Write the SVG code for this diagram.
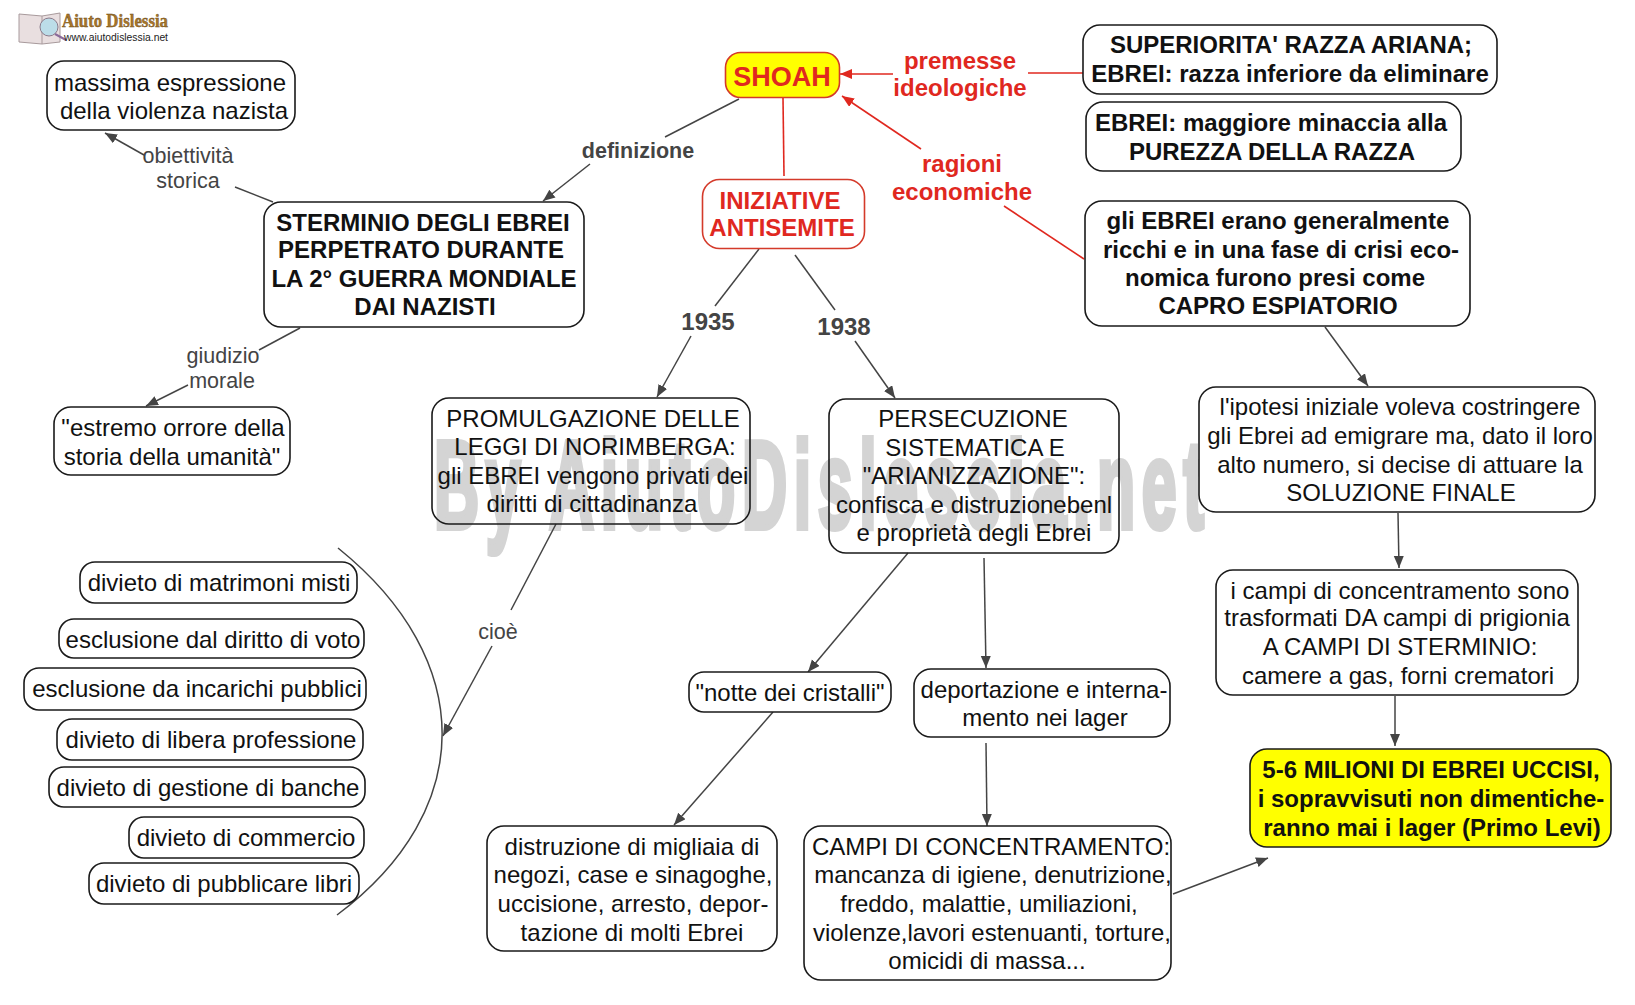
<svg xmlns="http://www.w3.org/2000/svg" width="1635" height="1005" viewBox="0 0 1635 1005">
<style>
text{font-family:"Liberation Sans",Arial,sans-serif;text-anchor:middle}
.b{fill:#fff;stroke:#1a1a1a;stroke-width:1.6}
.t{fill:none;stroke:#1a1a1a;stroke-width:1.6}
.n{font-size:24px;fill:#111}
.bd{font-size:24px;font-weight:bold;fill:#111}
.r{font-size:24px;font-weight:bold;fill:#e0281f}
.l{font-size:21.5px;fill:#444}
.lb{font-size:21.5px;font-weight:bold;fill:#444}
.y{font-size:24px;font-weight:bold;fill:#444}
.c{fill:none;stroke:#444;stroke-width:1.5}
.cr{fill:none;stroke:#e0281f;stroke-width:1.6}
.a{marker-end:url(#ma)}
.ar{marker-end:url(#mr)}
</style>
<defs>
<marker id="ma" markerUnits="userSpaceOnUse" markerWidth="14" markerHeight="12" refX="12" refY="5" orient="auto"><path d="M0 0L12 5L0 10z" fill="#444"/></marker>
<marker id="mr" markerUnits="userSpaceOnUse" markerWidth="14" markerHeight="12" refX="12" refY="5" orient="auto"><path d="M0 0L12 5L0 10z" fill="#e0281f"/></marker>
</defs>
<rect width="1635" height="1005" fill="#fff"/>
<text id="watermark" transform="translate(819 528) scale(.5 1)" x="0" y="0" font-size="125" font-weight="bold" fill="#d4d4d4" stroke="#d4d4d4" stroke-width="6" textLength="1540" lengthAdjust="spacing">By AiutoDislessia.net</text>
<g id="logo">
<path d="M19 14L42 16L60 13V42L42 44L19 42z" fill="#e9dfe0" stroke="#a89a9c"/>
<path d="M42 16V44" stroke="#a89a9c"/>
<circle cx="49" cy="27" r="9" fill="#bcdde8" stroke="#8a7a8a"/>
<path d="M55 34L66 40" stroke="#8a6a9a" stroke-width="2"/>
<text x="115" y="27" font-size="18" font-weight="bold" fill="#a8762a" stroke="#6a4a1a" stroke-width=".4" textLength="106" lengthAdjust="spacingAndGlyphs" style="font-family:'Liberation Serif',serif">Aiuto Dislessia</text>
<text x="116" y="41" font-size="10" fill="#222" textLength="104" lengthAdjust="spacingAndGlyphs">www.aiutodislessia.net</text>
</g>
<g id="connectors">
<path class="c" d="M739 99L665 137"/><path class="c a" d="M590 164L543 201"/>
<path class="cr" d="M783 98L784 176"/>
<path class="cr ar" d="M893 74L840 74"/>
<path class="cr" d="M1028 73L1083 73"/>
<path class="cr ar" d="M921 149L842 96"/>
<path class="cr" d="M1004 206L1084 259"/>
<path class="c" d="M273 202L235 187"/><path class="c a" d="M144 155L105 133"/>
<path class="c" d="M300 328L259 350"/><path class="c a" d="M188 385L146 406"/>
<path class="c" d="M759 249L715 306"/><path class="c a" d="M691 336L657 397"/>
<path class="c" d="M795 255L835 310"/><path class="c a" d="M855 341L895 398"/>
<path class="c a" d="M1325 327L1368 386"/>
<path class="c a" d="M1398 513L1399 568"/>
<path class="c a" d="M1395 696L1395 746"/>
<path class="c" d="M556 524L511 610"/><path class="c a" d="M492 646L443 736"/>
<path class="c" d="M338 548C477 660 477 810 337 915"/>
<path class="c a" d="M908 553L808 672"/>
<path class="c a" d="M984 558L986 668"/>
<path class="c a" d="M773 712L674 825"/>
<path class="c a" d="M986 743L987 826"/>
<path class="c a" d="M1173 894L1268 858"/>
</g>
<g id="l-definizione"><text class="lb" x="638" y="158">definizione</text></g>
<g id="l-obiettivita"><text class="l" x="188" y="163">obiettività</text><text class="l" x="188" y="188">storica</text></g>
<g id="l-giudizio"><text class="l" x="223" y="363">giudizio</text><text class="l" x="222" y="388">morale</text></g>
<g id="l-premesse"><text class="r" x="960" y="69">premesse</text><text class="r" x="960" y="96">ideologiche</text></g>
<g id="l-ragioni"><text class="r" x="962" y="172">ragioni</text><text class="r" x="962" y="200">economiche</text></g>
<g id="l-1935"><text class="y" x="708" y="330">1935</text></g>
<g id="l-1938"><text class="y" x="844" y="335">1938</text></g>
<g id="l-cioe"><text class="l" x="498" y="639">cioè</text></g>
<g id="shoah"><rect x="725.500" y="52.500" width="114" height="45" rx="15" fill="#ff0" stroke="#d43a2a" stroke-width="1.6"/><text x="782" y="86" font-size="27" font-weight="bold" fill="#e0281f">SHOAH</text></g>
<g id="iniziative"><rect x="702.500" y="179.500" width="162" height="69" rx="17" fill="#fff" stroke="#d43a2a" stroke-width="1.6"/><text class="r" x="780" y="209">INIZIATIVE</text><text class="r" x="782" y="236">ANTISEMITE</text></g>
<g id="massima"><rect class="b" x="47" y="61" width="248" height="69" rx="17"/><text class="n" x="170" y="91">massima espressione</text><text class="n" x="174" y="119">della violenza nazista</text></g>
<g id="superiorita"><rect class="b" x="1083" y="25" width="414" height="69" rx="17"/><text class="bd" x="1291" y="53">SUPERIORITA' RAZZA ARIANA;</text><text class="bd" x="1290" y="82">EBREI: razza inferiore da eliminare</text></g>
<g id="minaccia"><rect class="b" x="1086" y="102" width="375" height="69" rx="17"/><text class="bd" x="1271" y="131">EBREI: maggiore minaccia alla</text><text class="bd" x="1272" y="160">PUREZZA DELLA RAZZA</text></g>
<g id="ricchi"><rect class="b" x="1085" y="201" width="385" height="125" rx="17"/><text class="bd" x="1278" y="229">gli EBREI erano generalmente</text><text class="bd" x="1281" y="258">ricchi e in una fase di crisi eco-</text><text class="bd" x="1275" y="286">nomica furono presi come</text><text class="bd" x="1278" y="314">CAPRO ESPIATORIO</text></g>
<g id="sterminio"><rect class="b" x="264" y="202" width="320" height="125" rx="17"/><text class="bd" x="423" y="231">STERMINIO DEGLI EBREI</text><text class="bd" x="421" y="258">PERPETRATO DURANTE</text><text class="bd" x="424" y="287">LA 2° GUERRA MONDIALE</text><text class="bd" x="425" y="315">DAI NAZISTI</text></g>
<g id="estremo"><rect class="b" x="54" y="407" width="236" height="68" rx="17"/><text class="n" x="173" y="436">"estremo orrore della</text><text class="n" x="172" y="465">storia della umanità"</text></g>
<g id="norimberga"><rect class="t" x="432" y="398" width="318" height="126" rx="17"/><text class="n" x="593" y="427">PROMULGAZIONE DELLE</text><text class="n" x="595" y="455">LEGGI DI NORIMBERGA:</text><text class="n" x="593" y="484">gli EBREI vengono privati dei</text><text class="n" x="592" y="512">diritti di cittadinanza</text></g>
<g id="persecuzione"><rect class="t" x="829" y="399" width="290" height="154" rx="17"/><text class="n" x="973" y="427">PERSECUZIONE</text><text class="n" x="975" y="456">SISTEMATICA E</text><text class="n" x="974" y="484">"ARIANIZZAZIONE":</text><text class="n" x="974" y="513">confisca e distruzionebenl</text><text class="n" x="974" y="541">e proprietà degli Ebrei</text></g>
<g id="ipotesi"><rect class="b" x="1199" y="387" width="396" height="125" rx="17"/><text class="n" x="1400" y="415">l'ipotesi iniziale voleva costringere</text><text class="n" x="1400" y="444">gli Ebrei ad emigrare ma, dato il loro</text><text class="n" x="1400" y="473">alto numero, si decise di attuare la</text><text class="n" x="1401" y="501">SOLUZIONE FINALE</text></g>
<g id="campi"><rect class="b" x="1216" y="570" width="362" height="125" rx="17"/><text class="n" x="1400" y="599">i campi di concentramento sono</text><text class="n" x="1397" y="626">trasformati DA campi di prigionia</text><text class="n" x="1400" y="655">A CAMPI DI STERMINIO:</text><text class="n" x="1398" y="684">camere a gas, forni crematori</text></g>
<g id="milioni"><rect x="1250" y="749" width="361" height="98" rx="17" fill="#ff0" stroke="#1a1a1a" stroke-width="1.6"/><text class="bd" x="1431" y="778">5-6 MILIONI DI EBREI UCCISI,</text><text class="bd" x="1431" y="807">i sopravvisuti non dimentiche-</text><text class="bd" x="1432" y="836">ranno mai i lager (Primo Levi)</text></g>
<g id="notte"><rect class="b" x="689" y="672" width="202" height="40" rx="15"/><text class="n" x="790" y="701">"notte dei cristalli"</text></g>
<g id="deportazione"><rect class="b" x="914" y="669" width="256" height="68" rx="17"/><text class="n" x="1044" y="698">deportazione e interna-</text><text class="n" x="1045" y="726">mento nei lager</text></g>
<g id="distruzione"><rect class="b" x="487" y="826" width="290" height="125" rx="17"/><text class="n" x="632" y="855">distruzione di migliaia di</text><text class="n" x="633" y="883">negozi, case e sinagoghe,</text><text class="n" x="633" y="912">uccisione, arresto, depor-</text><text class="n" x="632" y="941">tazione di molti Ebrei</text></g>
<g id="concentramento"><rect class="b" x="804" y="826" width="367" height="154" rx="17"/><text class="n" x="991" y="855">CAMPI DI CONCENTRAMENTO:</text><text class="n" x="993" y="883">mancanza di igiene, denutrizione,</text><text class="n" x="989" y="912">freddo, malattie, umiliazioni,</text><text class="n" x="992" y="941" textLength="358" lengthAdjust="spacingAndGlyphs">violenze,lavori estenuanti, torture,</text><text class="n" x="987" y="969">omicidi di massa...</text></g>
<g id="v1"><rect class="b" x="80" y="562" width="277" height="41" rx="15"/><text class="n" x="219" y="591">divieto di matrimoni misti</text></g>
<g id="v2"><rect class="b" x="59" y="619" width="305" height="39" rx="15"/><text class="n" x="213" y="648">esclusione dal diritto di voto</text></g>
<g id="v3"><rect class="b" x="24" y="668" width="342" height="42" rx="15"/><text class="n" x="197" y="697">esclusione da incarichi pubblici</text></g>
<g id="v4"><rect class="b" x="57" y="719" width="306" height="41" rx="15"/><text class="n" x="211" y="748">divieto di libera professione</text></g>
<g id="v5"><rect class="b" x="49" y="767" width="316" height="40" rx="15"/><text class="n" x="208" y="796">divieto di gestione di banche</text></g>
<g id="v6"><rect class="b" x="129" y="817" width="235" height="41" rx="15"/><text class="n" x="246" y="846">divieto di commercio</text></g>
<g id="v7"><rect class="b" x="89" y="863" width="270" height="41" rx="15"/><text class="n" x="224" y="892">divieto di pubblicare libri</text></g>
</svg>
